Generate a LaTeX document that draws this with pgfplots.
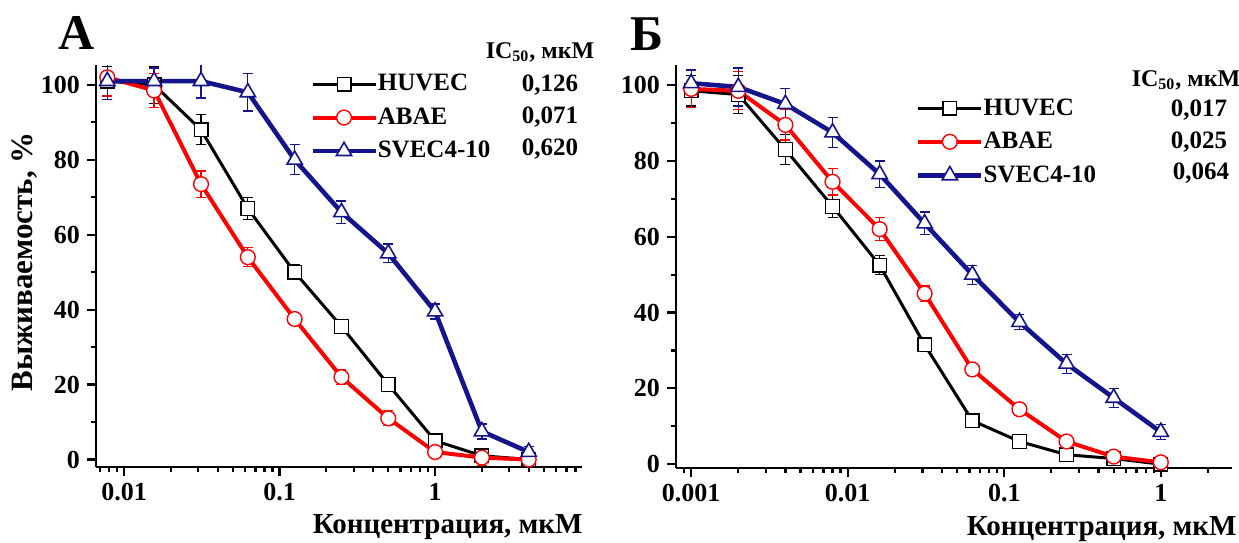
\documentclass[border=0pt]{standalone}
\usepackage{fontspec}
\setmainfont{Liberation Serif}
\usepackage{pgfplots}
\usepackage{pgfplotstable}
\pgfplotsset{compat=1.18}

\definecolor{navyline}{RGB}{20,20,140}
\newcommand{\fs}[1]{\fontsize{#1}{#1}\selectfont}

% panel A: survival vs concentration
\pgfplotstableread{
x        h     he    a     ae    s     se
0.0078   101   4     102   5     101   5
0.0156   100   5     98.5  4.5   101   3.5
0.03125  88    4     73.5  3.5   101   4.5
0.0625   67    3     54    2.5   98    5
0.125    50    2     37.5  1     80    4
0.25     35.5  1     22    2     66    3
0.5      20    1.5   11    2     55    2.5
1        5     1.5   2     1.5   39.5  2
2        1     1     0.5   2     7.5   2
4        0     0.5   0     1     2     1.5
}\dataA

% panel B
\pgfplotstableread{
x        h     he    a     ae    s     se
0.001    98.5  4     99    5     100.5 3.5
0.002    97.5  5     98.5  5     99.5  5
0.004    83    4     89.5  4     95    4
0.008    68    3     74.5  3.5   87.5  4
0.016    52.5  2.5   62    3     76.5  3.5
0.031    31.5  1     45    2     63.5  3
0.0625   11.5  1.5   25    1.5   50    2.5
0.125    6     1.5   14.5  1.5   37.5  2
0.25     2.5   1.5   6     1.5   26.5  2.5
0.5      1.5   1     2     1     17.5  2.5
1        0     0.5   0.5   1     8.5   2
}\dataB

\pgfplotsset{
  every axis/.append style={
    scale only axis,
    axis x line*=bottom, axis y line*=left,
    x axis line style={-, line width=1.4pt},
    y axis line style={-, line width=1.4pt},
    tick align=outside,
    major tick length=4.5pt, minor tick length=2.5pt,
    tick style={black, line width=1.1pt},
    ytick={0,20,40,60,80,100}, yticklabels={0,20,40,60,80,100},
    minor ytick={10,30,50,70,90},
    tick label style={font=\bfseries\fs{13}},
    legend style={draw=none, fill=none, inner sep=0pt, row sep=7pt,
      font=\bfseries\fs{12.5},
      nodes={inner sep=0pt},
      /tikz/every even column/.append style={column sep=3pt}},
    legend cell align=left,
  },
  legend image code/.code={
    \draw[mark repeat=2,mark phase=2,#1] plot coordinates {(0pt,0pt) (15.75pt,0pt) (31.5pt,0pt)};},
}
\tikzset{
  ebar/.style={/pgfplots/error bars/y dir=both, /pgfplots/error bars/y explicit,
    /pgfplots/error bars/error bar style={line width=0.6pt},
    /pgfplots/error bars/error mark options={rotate=90, mark size=2.5pt, line width=0.6pt}},
}

\begin{document}
\begin{tikzpicture}
\path[use as bounding box] (0,0) rectangle (619.5pt,271pt);

\begin{semilogxaxis}[at={(48pt,37.5pt)}, anchor=south west,
  width=243pt, height=201pt,
  xmin=0.0066, xmax=8.8, ymin=-2, ymax=105.3,
  xtick={0.01,0.1,1}, xticklabels={0.01,0.1,1},
  minor xtick={0.007,0.008,0.009,0.02,0.03,0.04,0.05,0.06,0.07,0.08,0.09,
    0.2,0.3,0.4,0.5,0.6,0.7,0.8,0.9,2,3,4,5,6,7,8},
  legend style={at={(0.44,0.978)}, anchor=north west}]
\addplot[black, line width=1.5pt, mark=square*, mark size=3.4pt,
    mark options={solid, fill=white, line width=0.7pt}, ebar]
  table[x=x, y=h, y error=he] {\dataA};
\addplot[red, line width=2pt, mark=*, mark size=3.7pt,
    mark options={solid, fill=white, line width=0.7pt}, ebar]
  table[x=x, y=a, y error=ae] {\dataA};
\addplot[navyline, line width=2.3pt, mark=triangle*, mark size=4.4pt,
    mark options={solid, fill=white, line width=0.8pt}, ebar]
  table[x=x, y=s, y error=se] {\dataA};
\legend{HUVEC, ABAE, SVEC4-10}
\end{semilogxaxis}

\begin{semilogxaxis}[at={(338pt,37pt)}, anchor=south west,
  width=278pt, height=201.5pt,
  xmin=0.0008, xmax=2.85, ymin=-1, ymax=105.3,
  xtick={0.001,0.01,0.1,1}, xticklabels={0.001,0.01,0.1,1},
  minor xtick={0.0009,0.002,0.003,0.004,0.005,0.006,0.007,0.008,0.009,
    0.02,0.03,0.04,0.05,0.06,0.07,0.08,0.09,
    0.2,0.3,0.4,0.5,0.6,0.7,0.8,0.9,2},
  legend style={at={(0.431,0.918)}, anchor=north west}]
\addplot[black, line width=1.5pt, mark=square*, mark size=3.4pt,
    mark options={solid, fill=white, line width=0.7pt}, ebar]
  table[x=x, y=h, y error=he] {\dataB};
\addplot[red, line width=2pt, mark=*, mark size=3.7pt,
    mark options={solid, fill=white, line width=0.7pt}, ebar]
  table[x=x, y=a, y error=ae] {\dataB};
\addplot[navyline, line width=2.3pt, mark=triangle*, mark size=4.4pt,
    mark options={solid, fill=white, line width=0.8pt}, ebar]
  table[x=x, y=s, y error=se] {\dataB};
\legend{HUVEC, ABAE, SVEC4-10}
\end{semilogxaxis}

% panel letters and labels
\node[font=\bfseries\fs{25}] at (38.5pt,254.5pt) {А};
\node[font=\bfseries\fs{25}] at (323.5pt,254pt) {Б};
\node[font=\bfseries\fs{15.5}, rotate=90] at (12.5pt,140pt) {Выживаемость, \%};
\node[font=\bfseries\fs{14.5}, anchor=base east, inner sep=0pt] at (291.5pt,4.5pt) {Концентрация, мкМ};
\node[font=\bfseries\fs{14.5}, anchor=base east, inner sep=0pt] at (618.5pt,3.5pt) {Концентрация, мкМ};

% IC50 columns
\node[font=\bfseries\fs{12}] at (270pt,245pt) {IC\textsubscript{50}, мкМ};
\node[font=\bfseries\fs{12.5}] at (275pt,228.5pt) {0,126};
\node[font=\bfseries\fs{12.5}] at (275pt,212.5pt) {0,071};
\node[font=\bfseries\fs{12.5}] at (275pt,196.5pt) {0,620};
\node[font=\bfseries\fs{12}] at (593pt,231pt) {IC\textsubscript{50}, мкМ};
\node[font=\bfseries\fs{12.5}] at (599.5pt,216pt) {0,017};
\node[font=\bfseries\fs{12.5}] at (599.5pt,200pt) {0,025};
\node[font=\bfseries\fs{12.5}] at (600.5pt,184.5pt) {0,064};
\end{tikzpicture}
\end{document}
